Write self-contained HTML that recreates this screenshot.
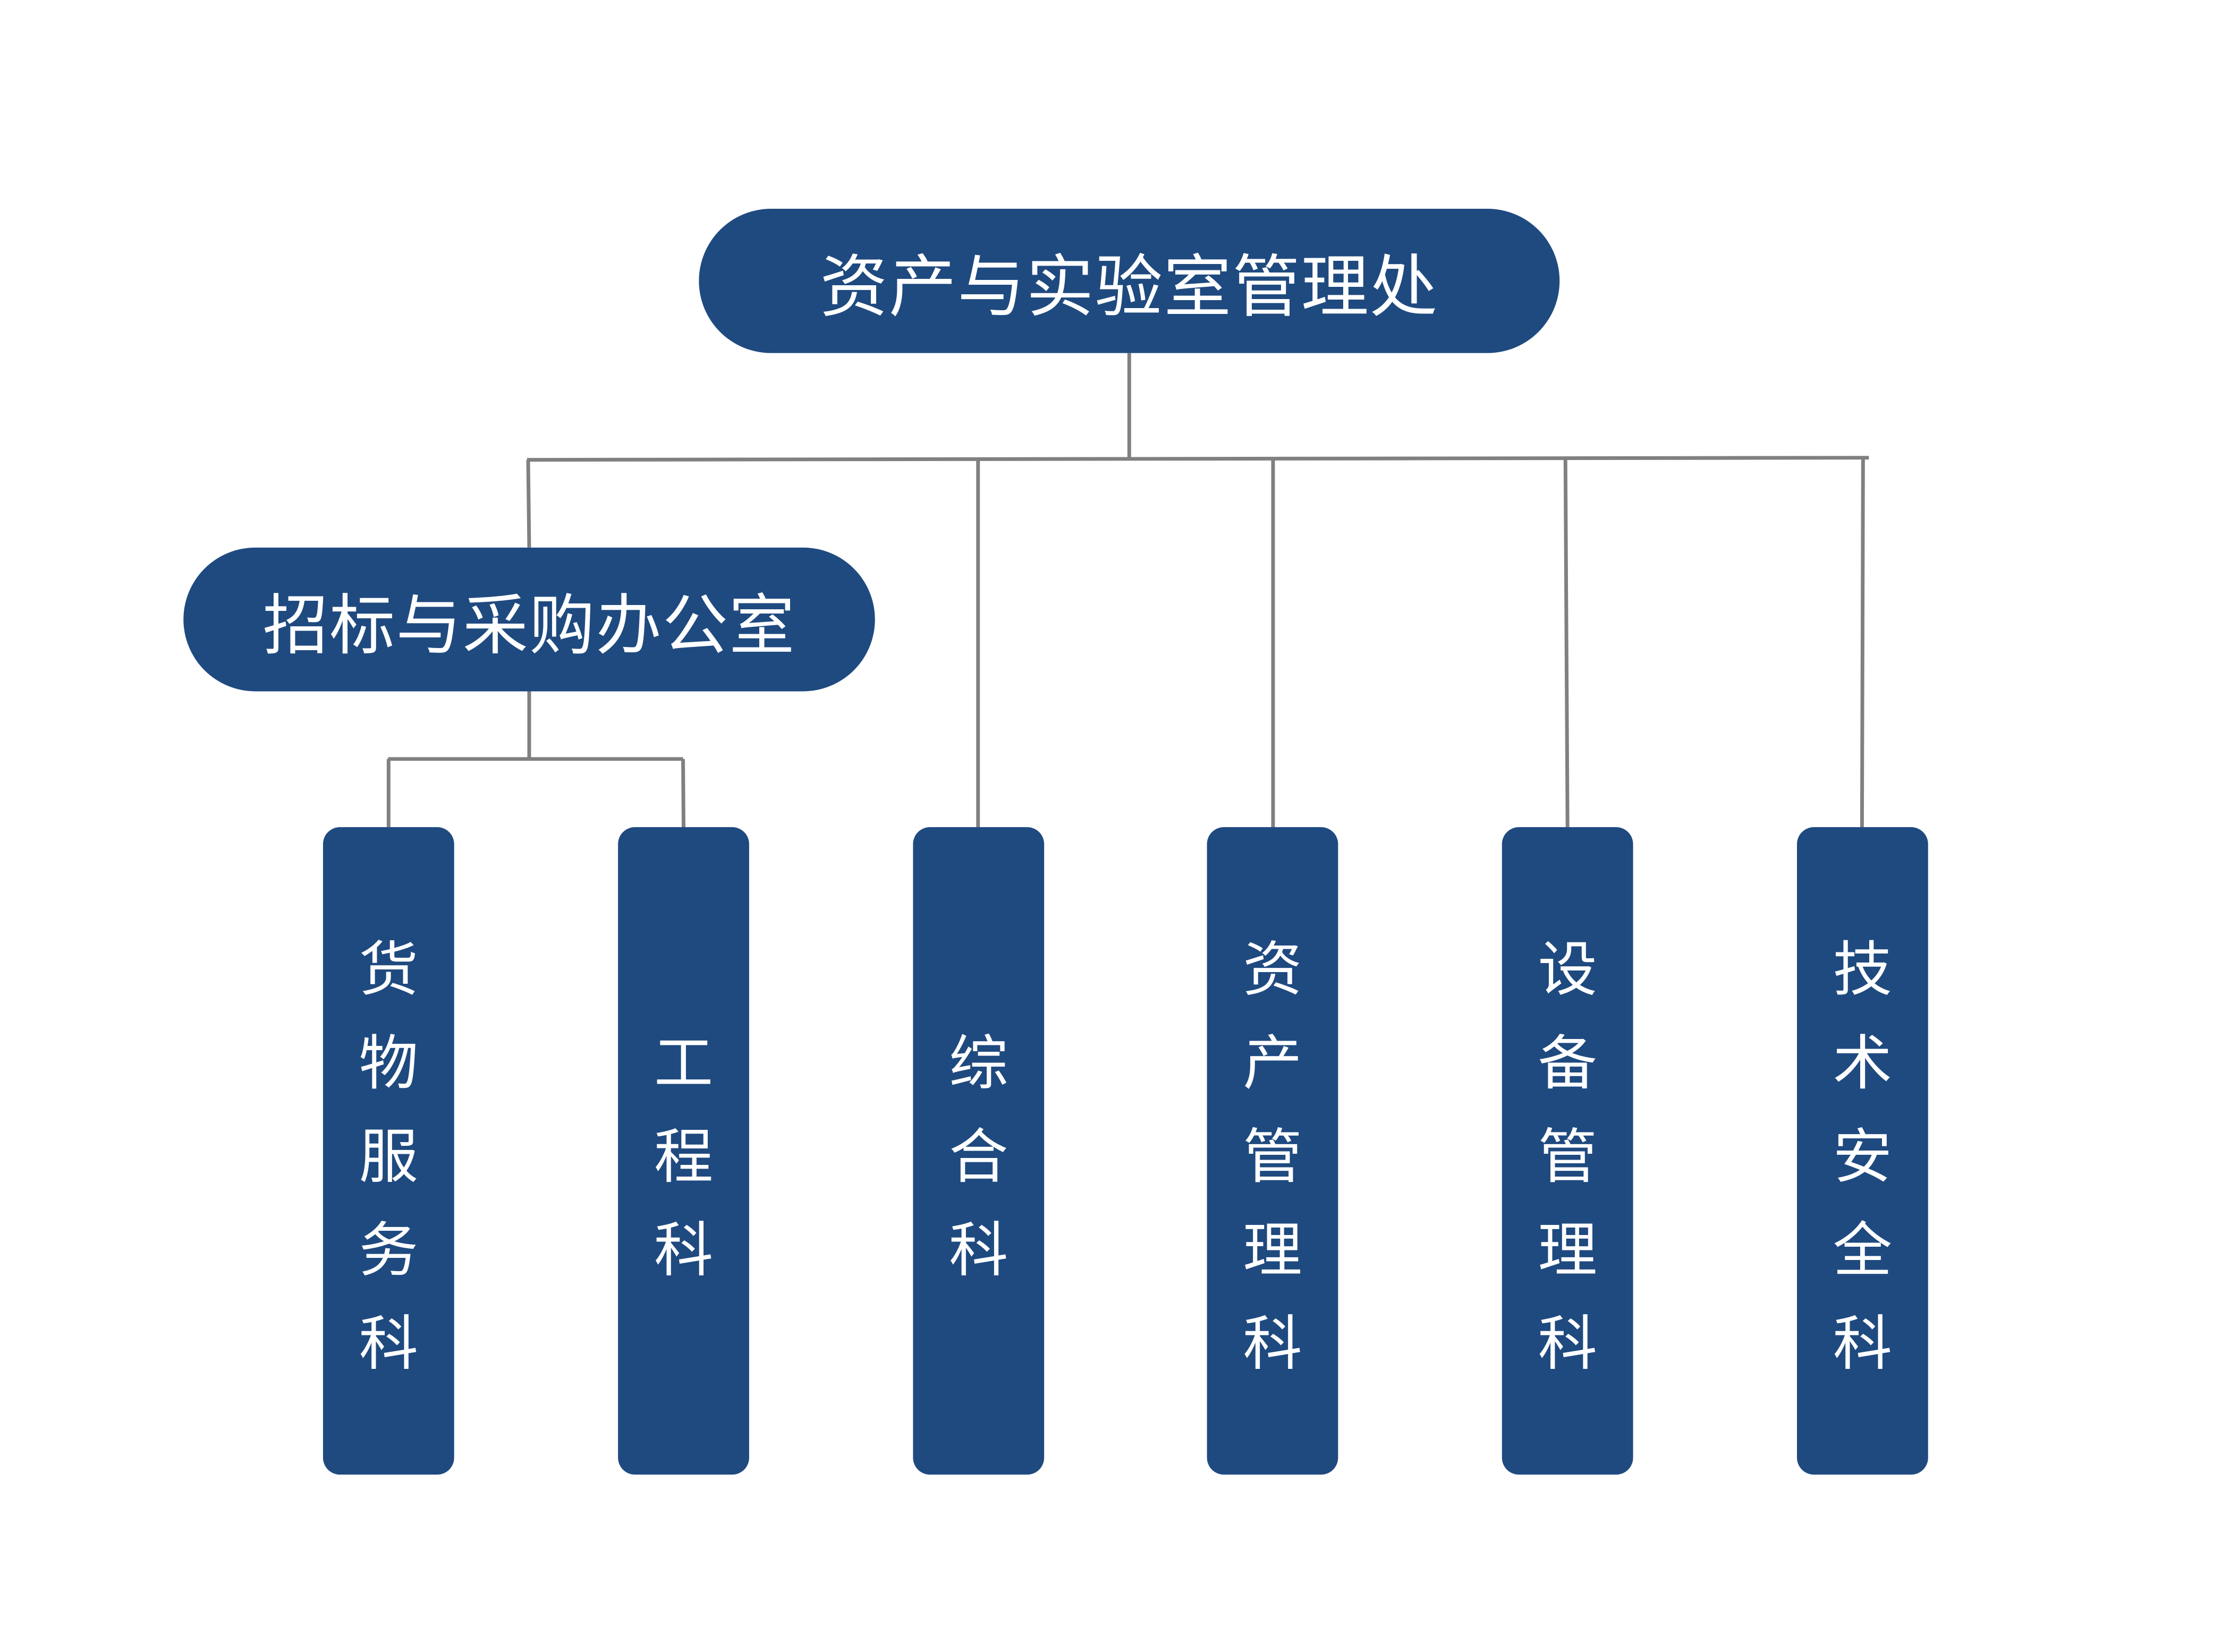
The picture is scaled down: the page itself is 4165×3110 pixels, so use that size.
<!DOCTYPE html>
<html><head><meta charset="utf-8"><style>
html,body{margin:0;padding:0;background:#fff;}
body{width:4165px;height:3110px;position:relative;overflow:hidden;font-family:"Liberation Sans","Noto Sans CJK SC",sans-serif;}
#w{position:absolute;left:0;top:0;width:4165px;height:3110px;transform:scale(0.995);transform-origin:0 0;}
.pill{position:absolute;background:#1f4a80;color:#fff;display:flex;align-items:center;justify-content:center;font-size:124px;border-radius:140px;letter-spacing:2px;}
.col{position:absolute;top:1565px;width:248px;height:1225px;box-sizing:border-box;padding-top:22px;background:#1f4a80;border-radius:32px;color:#fff;display:flex;flex-direction:column;align-items:center;justify-content:center;font-size:112px;line-height:177px;}
svg{position:absolute;left:0;top:0;}
</style></head><body><div id="w">
<svg width="4165" height="3110">
<g stroke="#808080" stroke-width="7" fill="none">
<line x1="2136" y1="668" x2="2136" y2="868"/>
<line x1="997" y1="870" x2="3535" y2="866"/>
<line x1="999" y1="870" x2="1001" y2="1036"/>
<line x1="1850" y1="869" x2="1850" y2="1565"/>
<line x1="2408" y1="868" x2="2408" y2="1567"/>
<line x1="2961" y1="867" x2="2965" y2="1565"/>
<line x1="3524" y1="866" x2="3522" y2="1567"/>
<line x1="1001" y1="1308" x2="1001" y2="1436"/>
<line x1="734" y1="1436" x2="1292" y2="1436"/>
<line x1="735" y1="1436" x2="735" y2="1565"/>
<line x1="1292" y1="1436" x2="1293" y2="1567"/>
</g></svg>
<div class="pill" style="left:1322px;top:395px;width:1628px;height:273px;font-size:128px;">资产与实验室管理处</div>
<div class="pill" style="left:347px;top:1036px;width:1308px;height:272px;">招标与采购办公室</div>
<div class="col" style="left:611px;"><span>货</span><span>物</span><span>服</span><span>务</span><span>科</span></div>
<div class="col" style="left:1169px;"><span>工</span><span>程</span><span>科</span></div>
<div class="col" style="left:1727px;"><span>综</span><span>合</span><span>科</span></div>
<div class="col" style="left:2283px;"><span>资</span><span>产</span><span>管</span><span>理</span><span>科</span></div>
<div class="col" style="left:2841px;"><span>设</span><span>备</span><span>管</span><span>理</span><span>科</span></div>
<div class="col" style="left:3399px;"><span>技</span><span>术</span><span>安</span><span>全</span><span>科</span></div>
</div></body></html>
